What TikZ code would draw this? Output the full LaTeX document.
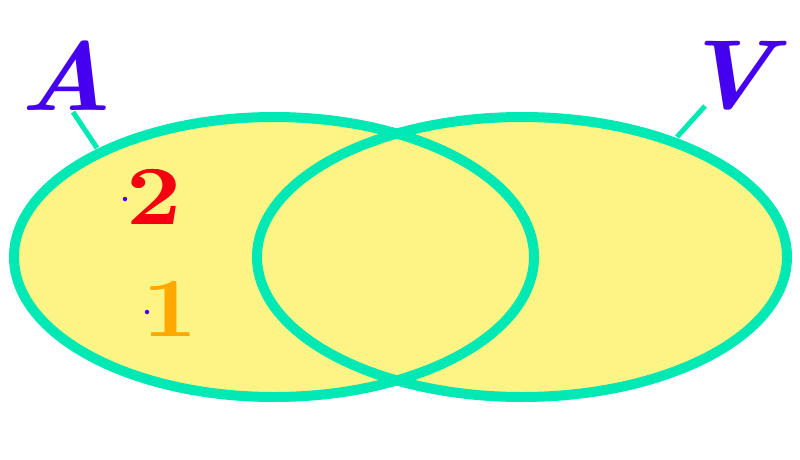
\documentclass[tikz,border=0pt]{standalone}
\usepackage{tikz}
\usepackage{graphicx}
\definecolor{ringgreen}{HTML}{00E8B4}
\definecolor{fillyellow}{HTML}{FCF585}
\definecolor{labblue}{HTML}{4600F0}
\definecolor{numred}{HTML}{F50010}
\definecolor{numorange}{HTML}{FFA800}
\newcommand{\widen}[2]{\scalebox{#1}[1]{#2}}
\tikzset{
  ring/.style={draw=ringgreen, line width=10pt},
  setlabel/.style={text=labblue, font=\fontsize{98}{98}\selectfont\bfseries\itshape, inner sep=0pt},
  numlabel/.style={font=\fontsize{84}{84}\selectfont\bfseries, inner sep=0pt},
  tick/.style={draw=ringgreen, line width=5pt},
  pt/.style={circle, fill=labblue, inner sep=0pt, minimum size=4.5pt}
}
\begin{document}
\begin{tikzpicture}[x=1pt,y=-1pt]
\useasboundingbox (0,0) rectangle (800,460);
\fill[fillyellow] (274,257) ellipse [x radius=260, y radius=140];
\fill[fillyellow] (522,257) ellipse [x radius=265, y radius=140];
\draw[ring] (274,257) ellipse [x radius=260, y radius=140];
\draw[ring] (522,257) ellipse [x radius=265, y radius=140];
\node[setlabel] (A) at (66,76) {\widen{1.1}{A}};
\node[setlabel] (V) at (728,76) {\widen{1.1}{V}};
\coordinate (aend) at (97,148);
\coordinate (vend) at (677,137);
\coordinate (astart) at (73,112);
\coordinate (vstart) at (705,106);
\draw[tick] (astart) -- (aend);
\draw[tick] (vstart) -- (vend);
\node[numlabel, text=numred] (twoa) at (153.2,197) {\widen{1.15}{2}};
\node[numlabel, text=numred] (two) at (154.8,197) {\widen{1.15}{2}};
\node[numlabel, text=numorange] (onea) at (169.2,309) {\widen{1.15}{1}};
\node[numlabel, text=numorange] (one) at (170.8,309) {\widen{1.15}{1}};
\node[pt] (p2) at (125,199) {};
\node[pt] (p1) at (147,312) {};
\end{tikzpicture}
\end{document}
